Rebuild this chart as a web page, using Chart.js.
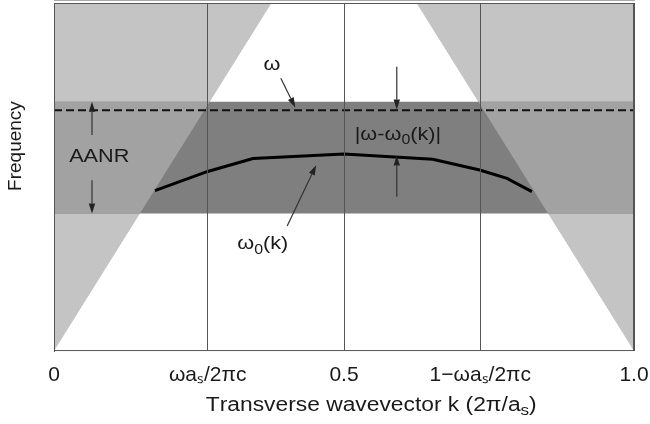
<!DOCTYPE html>
<html>
<head>
<meta charset="utf-8">
<script src="https://cdn.jsdelivr.net/npm/chart.js@4.4.1/dist/chart.umd.min.js"></script>
<style>
  html, body { margin: 0; padding: 0; background: #fff; }
  #wrap { width: 650px; height: 424px; }
</style>
</head>
<body>
<div id="wrap"><canvas id="bandChart"></canvas></div>
<script>
// k axis ticks (units of 2pi/a_s)
const kTicks = [0, 0.265, 0.5, 0.735, 1.0];
const kTickLabels = ['0', 'ωaₛ/2πc', '0.5', '1−ωaₛ/2πc', '1.0'];

// frequency levels, frame height = 1
const omegaLevel = 0.692;
const aanrBand = [0.395, 0.716];

// k where the left / right light line reaches the top of the frame
const lightLineK = [0.375, 0.625];

// guided mode omega_0(k)
const omega0K = [0.174, 0.265, 0.343, 0.5, 0.653, 0.734, 0.781, 0.824];
const omega0F = [0.461, 0.516, 0.553, 0.566, 0.551, 0.520, 0.496, 0.458];

// text + arrows, in (k, frequency); "_x" = subscript x
const noteTexts = [
    { text: 'ω', k: 0.376, f: 0.822 },
    { text: 'AANR', k: 0.078, f: 0.557 },
    { text: '|ω-ω_0(k)|', k: 0.593, f: 0.621 },
    { text: 'ω_0(k)', k: 0.36, f: 0.307 }
];
const noteArrows = [
    [0.391, 0.784, 0.416, 0.700],
    [0.0655, 0.621, 0.0655, 0.716],
    [0.0655, 0.491, 0.0655, 0.395],
    [0.591, 0.817, 0.591, 0.694],
    [0.591, 0.443, 0.591, 0.562],
    [0.402, 0.359, 0.452, 0.534]
];
const xTitle = 'Transverse wavevector k (2π/a_s)';
const yTitle = 'Frequency';

const FONT = "'Liberation Sans', Arial, Helvetica, sans-serif";

// where the light lines cross the AANR band edges
const leftAt = f => lightLineK[0] * f;
const rightAt = f => 1 - (1 - lightLineK[1]) * f;

function drawArrow(ctx, x0, y0, x1, y1) {
    const a = Math.atan2(y1 - y0, x1 - x0);
    const len = 10, half = 3.2;
    const bx = x1 - len * Math.cos(a), by = y1 - len * Math.sin(a);
    ctx.beginPath();
    ctx.moveTo(x0, y0);
    ctx.lineTo(bx, by);
    ctx.stroke();
    ctx.beginPath();
    ctx.moveTo(x1, y1);
    ctx.lineTo(bx + half * Math.sin(a), by - half * Math.cos(a));
    ctx.lineTo(bx - half * Math.sin(a), by + half * Math.cos(a));
    ctx.closePath();
    ctx.fill();
}

// text with "_c" subscripts, centred on (cx, cy), stretched a bit wide like the original
function drawRich(ctx, str, cx, cy, size, stretch) {
    const runs = [];
    for (let i = 0; i < str.length; i++) {
        if (str[i] === '_' && i + 1 < str.length) {
            runs.push({ t: str[i + 1], sub: true });
            i++;
        } else {
            runs.push({ t: str[i], sub: false });
        }
    }
    const fontFor = r => (r.sub ? Math.round(size * 0.75) : size) + 'px ' + FONT;
    let total = 0;
    runs.forEach(r => { ctx.font = fontFor(r); r.w = ctx.measureText(r.t).width; total += r.w; });
    ctx.save();
    ctx.translate(cx, cy);
    ctx.scale(stretch, 1);
    ctx.textAlign = 'left';
    ctx.textBaseline = 'middle';
    let xPos = -total / 2;
    runs.forEach(r => {
        ctx.font = fontFor(r);
        ctx.fillText(r.t, xPos, r.sub ? size * 0.3 : 0);
        xPos += r.w;
    });
    ctx.restore();
}

const notesPlugin = {
    id: 'notes',
    afterDraw(chart) {
        const { ctx, chartArea: area, scales: { x, y } } = chart;
        ctx.save();

        // frame
        ctx.strokeStyle = '#555';
        ctx.lineWidth = 1;
        ctx.strokeRect(area.left + 0.5, area.top + 0.5, area.width - 1, area.height - 1);

        // arrows
        ctx.strokeStyle = '#333';
        ctx.fillStyle = '#222';
        ctx.lineWidth = 1.2;
        noteArrows.forEach(([k0, f0, k1, f1]) => {
            drawArrow(ctx, x.getPixelForValue(k0), y.getPixelForValue(f0),
                x.getPixelForValue(k1), y.getPixelForValue(f1));
        });

        // labels
        ctx.fillStyle = '#1a1a1a';
        noteTexts.forEach(n => {
            drawRich(ctx, n.text, x.getPixelForValue(n.k), y.getPixelForValue(n.f), 19, 1.14);
        });

        // x title, sits a little right of centre in the original
        drawRich(ctx, xTitle, x.getPixelForValue(0.547), area.bottom + 54, 20, 1.14);

        // y title
        ctx.font = '19px ' + FONT;
        ctx.textAlign = 'center';
        ctx.textBaseline = 'middle';
        ctx.translate(area.left - 38, y.getPixelForValue(0.589));
        ctx.rotate(-Math.PI / 2);
        ctx.fillText(yTitle, 0, 0);
        ctx.restore();
    }
};

const ctx = document.getElementById('bandChart');

new Chart(ctx, {
    type: 'line',
    plugins: [notesPlugin],
    data: {
        datasets: [
            {
                // omega_0(k)
                data: omega0K.map((k, i) => ({ x: k, y: omega0F[i] })),
                borderColor: '#000',
                borderWidth: 3,
                fill: false,
                order: 1
            },
            {
                // omega
                data: [{ x: 0, y: omegaLevel }, { x: 1, y: omegaLevel }],
                borderColor: '#111',
                borderWidth: 2,
                borderDash: [8, 4],
                fill: false,
                order: 2
            },
            {
                // band outside the light cone, left
                data: [
                    { x: 0, y: aanrBand[0] },
                    { x: leftAt(aanrBand[0]), y: aanrBand[0] },
                    { x: leftAt(aanrBand[1]), y: aanrBand[1] }
                ],
                borderWidth: 0,
                backgroundColor: '#a2a2a2',
                fill: { value: aanrBand[1] },
                order: 3
            },
            {
                // band outside the light cone, right
                data: [
                    { x: rightAt(aanrBand[1]), y: aanrBand[1] },
                    { x: rightAt(aanrBand[0]), y: aanrBand[0] },
                    { x: 1, y: aanrBand[0] }
                ],
                borderWidth: 0,
                backgroundColor: '#a2a2a2',
                fill: { value: aanrBand[1] },
                order: 3
            },
            {
                // AANR band
                data: [{ x: 0, y: aanrBand[1] }, { x: 1, y: aanrBand[1] }],
                borderWidth: 0,
                backgroundColor: '#7f7f7f',
                fill: { value: aanrBand[0] },
                order: 4
            },
            {
                // above left light line
                data: [{ x: 0, y: 0 }, { x: lightLineK[0], y: 1 }],
                borderWidth: 0,
                backgroundColor: '#c4c4c4',
                fill: 'end',
                order: 5
            },
            {
                // above right light line
                data: [{ x: lightLineK[1], y: 1 }, { x: 1, y: 0 }],
                borderWidth: 0,
                backgroundColor: '#c4c4c4',
                fill: 'end',
                order: 5
            }
        ]
    },
    options: {
        responsive: true,
        maintainAspectRatio: false,
        animation: false,
        layout: {
            padding: { left: 54, right: 16, top: 3, bottom: 25 }
        },
        elements: {
            point: { radius: 0, hoverRadius: 0 },
            line: { tension: 0 }
        },
        plugins: {
            legend: { display: false },
            tooltip: { enabled: false }
        },
        scales: {
            x: {
                type: 'linear',
                min: 0,
                max: 1,
                afterBuildTicks: scale => {
                    scale.ticks = kTicks.map(v => ({ value: v }));
                },
                // let the "1.0" label hang past the frame like the original
                afterFit: scale => {
                    scale.paddingRight = 0;
                },
                ticks: {
                    autoSkip: false,
                    maxRotation: 0,
                    padding: 14,
                    color: '#1a1a1a',
                    font: { family: FONT, size: 21, lineHeight: 0.95 },
                    callback: (v, i) => kTickLabels[i]
                },
                grid: {
                    color: '#555',
                    lineWidth: 1,
                    drawTicks: false,
                    z: 1
                },
                border: { color: '#555' }
            },
            y: {
                min: 0,
                max: 1,
                ticks: { display: false },
                grid: { display: false, drawTicks: false },
                border: { color: '#555' }
            }
        }
    }
});
</script>
</body>
</html>
